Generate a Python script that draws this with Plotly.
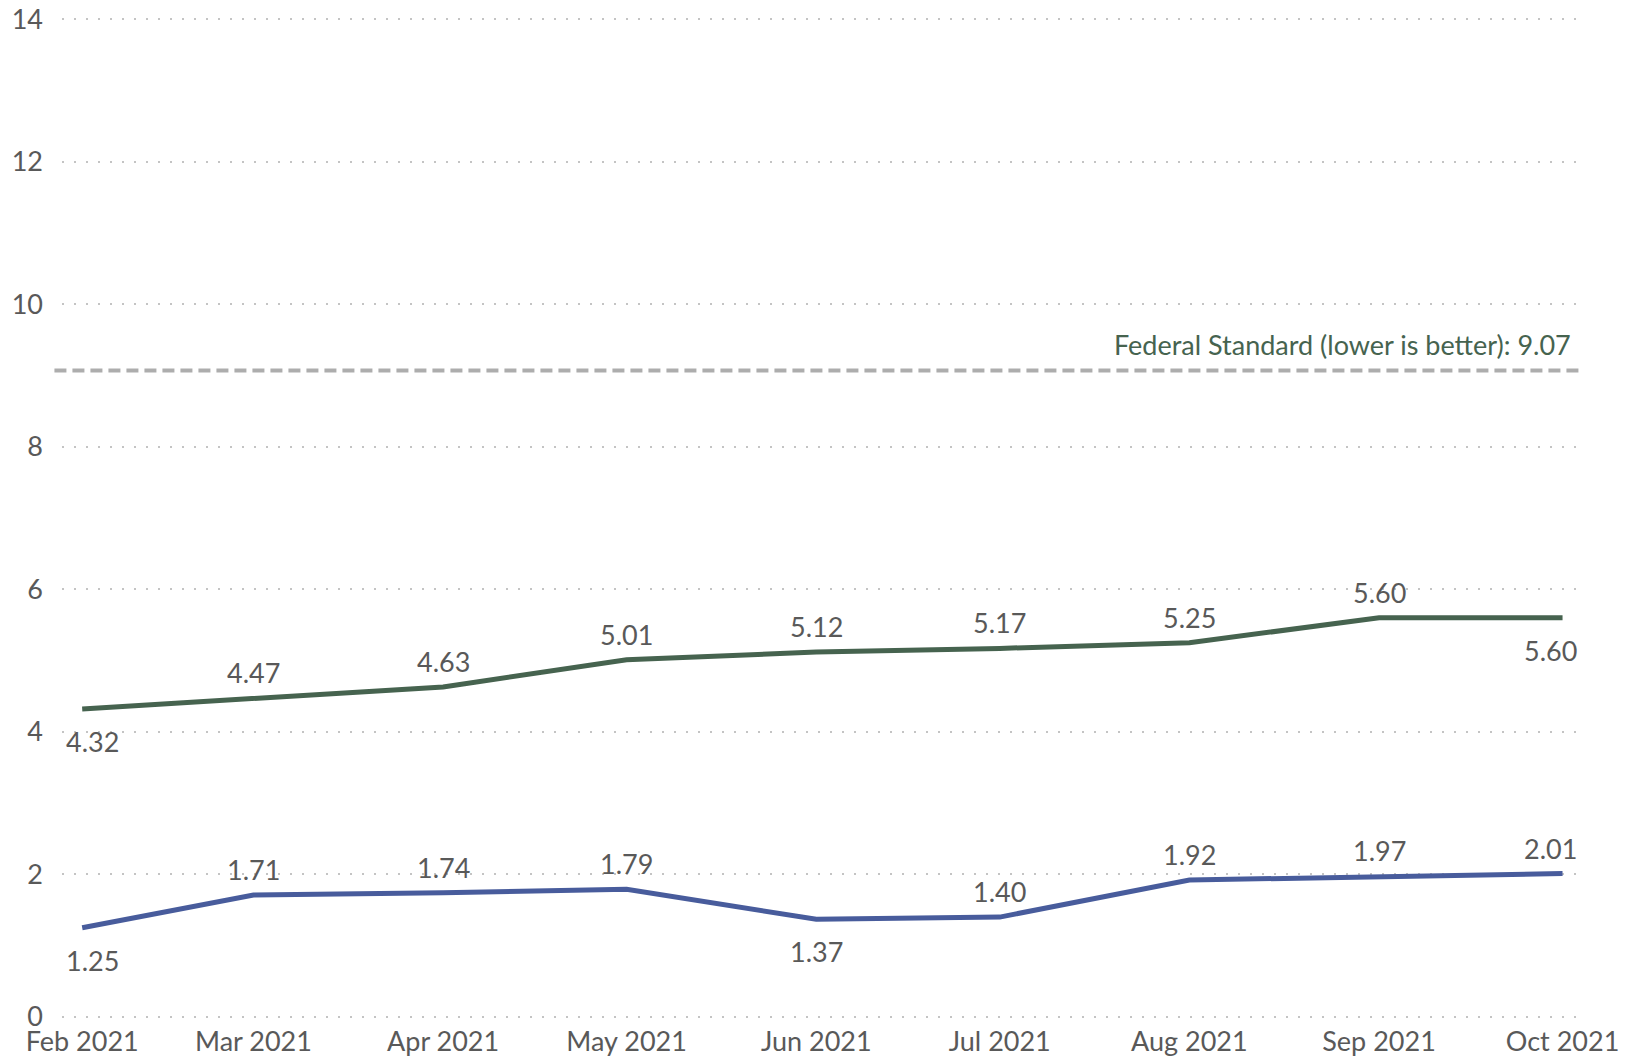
import pandas as pd
import plotly.graph_objects as go

# Data
months = ["2021-02-01", "2021-03-01", "2021-04-01", "2021-05-01", "2021-06-01",
          "2021-07-01", "2021-08-01", "2021-09-01", "2021-10-01"]
upper_values = [4.32, 4.47, 4.63, 5.01, 5.12, 5.17, 5.25, 5.60, 5.60]
lower_values = [1.25, 1.71, 1.74, 1.79, 1.37, 1.40, 1.92, 1.97, 2.01]
upper_label_pos = ["below", "above", "above", "above", "above", "above", "above", "above", "below"]
lower_label_pos = ["below", "above", "above", "above", "below", "above", "above", "above", "above"]
federal_standard = 9.07
federal_label = "Federal Standard (lower is better): 9.07"
y_ticks = [0, 2, 4, 6, 8, 10, 12, 14]

green = "#46634F"
blue = "#485C9C"
text_gray = "#595959"
font_family = "Lato, 'Open Sans', sans-serif"
fsize = 27

dates = pd.to_datetime(months)

fig = go.Figure()
fig.add_trace(go.Scatter(x=dates, y=upper_values, mode="lines",
                         line=dict(color=green, width=5), hoverinfo="x+y"))
fig.add_trace(go.Scatter(x=dates, y=lower_values, mode="lines",
                         line=dict(color=blue, width=5), hoverinfo="x+y"))

# Data labels above / below the points (end labels nudged inward like Excel does)
n = len(dates)
for vals, pos in [(upper_values, upper_label_pos), (lower_values, lower_label_pos)]:
    for i, (d, v, p) in enumerate(zip(dates, vals, pos)):
        xs = 10 if i == 0 else (-12 if i == n - 1 else 0)
        fig.add_annotation(
            x=d, y=v, text=f"{v:.2f}", showarrow=False,
            yanchor="bottom" if p == "above" else "top",
            yshift=7 if p == "above" else -14, xshift=xs,
            font=dict(size=fsize, color=text_gray, family=font_family),
        )

# Federal standard reference line
fig.add_shape(type="line", xref="paper", yref="y", x0=-0.005, x1=1.004,
              y0=federal_standard, y1=federal_standard,
              line=dict(color="#ADADAD", width=4, dash="12px,6px"))
fig.add_annotation(xref="paper", yref="y", x=0.998, y=federal_standard,
                   text=federal_label, showarrow=False, xanchor="right",
                   yanchor="bottom", yshift=7,
                   font=dict(size=fsize, color=green, family=font_family))

x_lo = dates[0] - pd.Timedelta(days=3.3)
x_hi = dates[-1] + pd.Timedelta(days=2.2)

fig.update_xaxes(
    type="date", range=[x_lo, x_hi], tickvals=dates, tickformat="%b %Y",
    showgrid=False, showline=False, zeroline=False, ticks="",
    ticklabelstandoff=4,
    tickfont=dict(size=fsize, color=text_gray, family=font_family),
)
fig.update_yaxes(
    range=[-0.03, 14.03], tickvals=y_ticks, showgrid=True, gridcolor="#C4C4C4",
    gridwidth=1.5, griddash="2px,10px", zeroline=False, showline=False,
    ticks="", ticklabelstandoff=18, ticklabeloverflow="allow",
    tickfont=dict(size=fsize, color=text_gray, family=font_family),
)
# page body adds an 8px margin, so the figure is 8px smaller than the window
fig.update_layout(
    width=1623, height=1050, showlegend=False,
    plot_bgcolor="white", paper_bgcolor="white",
    margin=dict(l=54, r=55, t=9, b=39, autoexpand=False),
    font=dict(family=font_family, color=text_gray),
)
fig.write_html("out.html")
